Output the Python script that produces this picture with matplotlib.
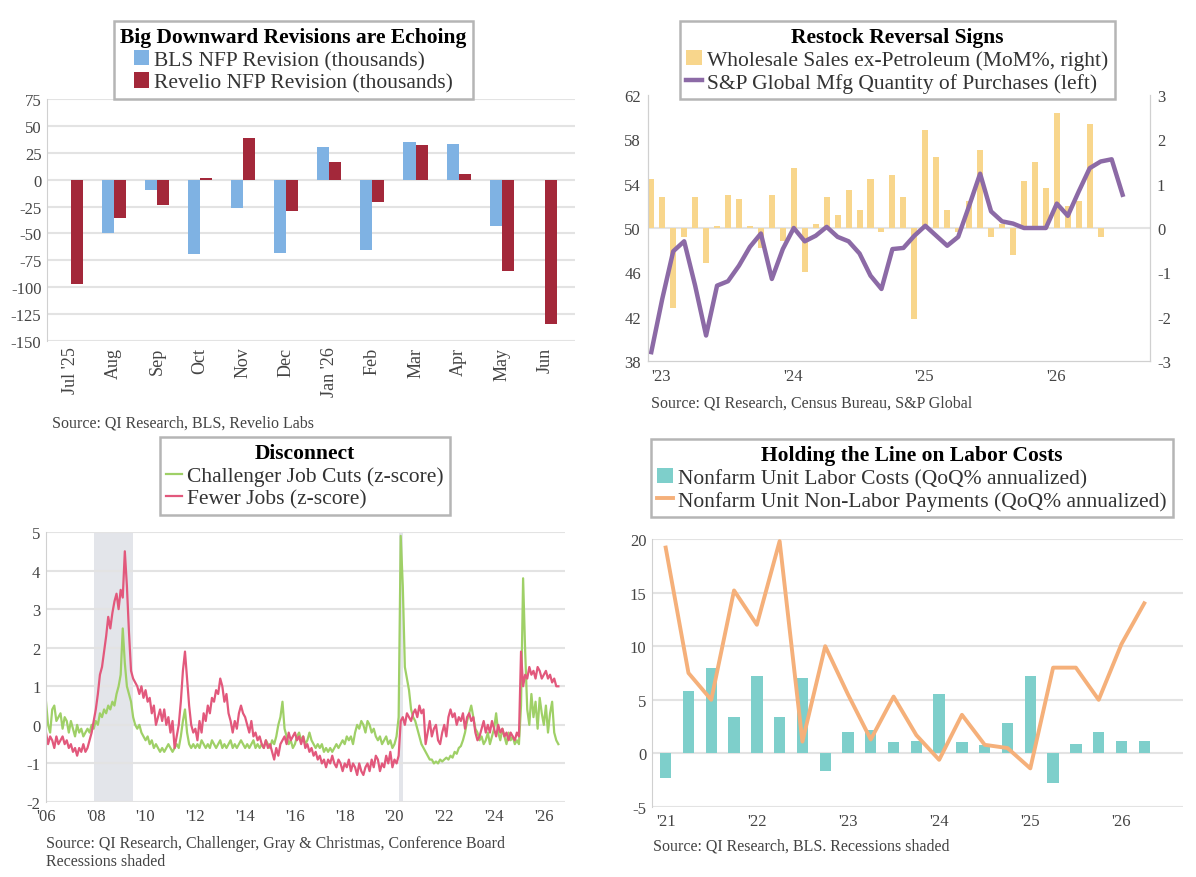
import numpy as np
import matplotlib
matplotlib.use("Agg")
import matplotlib.pyplot as plt

plt.rcParams['font.family'] = ['Liberation Serif', 'DejaVu Serif']
plt.rcParams['axes.unicode_minus'] = False

# ---- top left: payroll revisions
rev_months = ["Jul '25", "Aug", "Sep", "Oct", "Nov", "Dec",
              "Jan '26", "Feb", "Mar", "Apr", "May", "Jun"]
bls_rev = [np.nan, -50, -10, -69, -26, -68, 30, -65, 35, 33, -43, np.nan]
revelio_rev = [-97, -36, -24, 2, 39, -29, 16, -21, 32, 5, -85, -134]

# ---- top right: restock signals (monthly from Jan 2023)
purch_ticks = ["'23", "'24", "'25", "'26"]
sp_purchases = [38.8, 43.6, 47.9, 48.8, 44.8, 40.3, 44.8, 45.2, 46.6, 48.3, 49.5, 45.4,
                48.1, 50.0, 48.8, 49.3, 50.1, 49.2, 48.8, 47.7, 45.7, 44.5, 48.1, 48.2,
                49.3, 50.2, 49.3, 48.4, 49.2, 52.0, 54.9, 51.5, 50.6, 50.4, 50.0, 50.0,
                50.0, 52.2, 51.1, 53.3, 55.4, 56.0, 56.2, 53.0]
wholesale_mom = [1.1, 0.7, -1.8, -0.2, 0.7, -0.8, 0.05, 0.75, 0.65, 0.05, -0.45, 0.75,
                 -0.3, 1.35, -1.0, 0.1, 0.7, 0.3, 0.85, 0.4, 1.1, -0.1, 1.2, 0.7,
                 -2.05, 2.2, 1.6, 0.4, -0.1, 0.6, 1.75, -0.2, 0.1, -0.6, 1.05, 1.5,
                 0.9, 2.6, 0.5, 0.6, 2.35, -0.2]

# ---- bottom left: z-scores, monthly from Jan 2006
challenger = [
    0.6, 0.0, -0.2, 0.4, 0.5, 0.1, 0.2, 0.3, -0.1, 0.2, 0.1, -0.2,
    0.1, -0.1, -0.3, 0.0, -0.2, -0.1, -0.3, -0.2, -0.1, -0.2, 0.0, -0.1,
    0.1, 0.0, 0.3, 0.2, 0.4, 0.3, 0.5, 0.4, 0.6, 0.5, 0.8, 1.0,
    1.3, 2.5, 1.6, 1.0, 0.8, 0.6, 0.2, 0.0, -0.1, 0.0, -0.2, -0.3,
    -0.4, -0.3, -0.5, -0.4, -0.6, -0.5, -0.6, -0.7, -0.6, -0.7, -0.6, -0.5,
    -0.6, -0.7, -0.6, -0.5, -0.6, -0.3, 0.1, 0.4, -0.2, -0.5, -0.6, -0.5,
    -0.6, -0.5, -0.6, -0.4, -0.5, -0.6, -0.5, -0.6, -0.4, -0.5, -0.6, -0.5,
    -0.4, -0.6, -0.5, -0.6, -0.5, -0.4, -0.6, -0.5, -0.6, -0.5, -0.4, -0.5,
    -0.6, -0.5, -0.6, -0.5, -0.4, -0.6, -0.5, -0.6, -0.5, -0.6, -0.4, -0.5,
    -0.6, -0.4, -0.5, -0.3, 0.0, 0.2, 0.6, -0.1, -0.3, -0.5, -0.4, -0.6,
    -0.5, -0.3, -0.2, -0.4, -0.3, -0.5, -0.4, -0.2, -0.4, -0.5, -0.6, -0.5,
    -0.6, -0.5, -0.7, -0.6, -0.7, -0.6, -0.7, -0.6, -0.5, -0.6, -0.5, -0.4,
    -0.5, -0.3, -0.4, -0.3, -0.5, -0.2, 0.0, -0.1, 0.1, 0.0, -0.2, 0.1,
    0.0, -0.2, -0.1, -0.3, -0.4, -0.3, -0.5, -0.4, -0.3, -0.5, -0.4, -0.6,
    -0.5, -0.3, 0.2, 4.9, 3.6, 1.5, 1.2, 0.9, 0.4, 0.2, 0.1, -0.1,
    -0.3, -0.5, -0.6, -0.7, -0.8, -0.9, -0.9, -1.0, -0.95, -1.0, -0.9, -0.95,
    -0.9, -0.85, -0.9, -0.8, -0.85, -0.7, -0.75, -0.6, -0.55, -0.4, -0.2, 0.1,
    0.3, 0.5, 0.2, -0.1, -0.2, -0.4, -0.3, -0.5, -0.4, -0.2, -0.5, -0.3,
    -0.1, 0.3, -0.2, -0.4, -0.1, -0.3, -0.5, -0.2, -0.4, -0.3, -0.5, -0.4,
    -0.5, 0.5, 3.8, 1.9, 0.4, 0.0, 0.8, 0.2, 0.6, -0.1, 0.7, 0.3,
    0.0, 0.5, -0.2, 0.3, 0.6, -0.2, -0.4, -0.5]
fewer_jobs = [
    -0.2, -0.5, -0.3, -0.4, -0.6, -0.3, -0.5, -0.4, -0.3, -0.5, -0.4, -0.6,
    -0.5, -0.7, -0.6, -0.8, -0.6, -0.7, -0.5, -0.7, -0.6, -0.4, -0.2, 0.1,
    0.4, 0.8, 1.3, 1.5, 1.9, 2.3, 2.8, 2.5, 2.9, 3.2, 3.4, 3.0,
    3.5, 3.3, 4.5, 3.6, 2.4, 1.4, 1.2, 1.1, 1.0, 0.8, 1.0, 0.7,
    0.9, 0.6, 0.7, 0.3, 0.5, 0.0, 0.2, 0.4, 0.1, 0.4, 0.0, 0.2,
    -0.2, 0.1, -0.6, -0.3, 0.0, 0.6, 1.4, 1.9, 1.2, 0.5, 0.0, -0.2,
    -0.1, -0.4, 0.1, -0.2, 0.3, 0.1, 0.5, 0.3, 0.7, 0.6, 0.9, 0.8,
    1.2, 1.0, 0.6, 0.8, 0.3, 0.1, -0.2, 0.1, -0.1, 0.3, 0.5, 0.3,
    0.2, 0.0, -0.2, 0.1, -0.3, -0.2, -0.4, -0.3, -0.5, -0.6, -0.4, -0.6,
    -0.5, -0.7, -0.9, -0.6, -0.8, -0.5, -0.4, -0.3, -0.5, -0.2, -0.4, -0.3,
    -0.2, -0.4, -0.3, -0.5, -0.3, -0.6, -0.5, -0.7, -0.6, -0.8, -0.7, -0.9,
    -0.8, -1.0, -0.9, -1.1, -0.9, -1.0, -0.8, -1.0, -1.1, -0.9, -1.0, -1.2,
    -1.0, -1.1, -0.9, -1.2, -1.0, -1.1, -1.3, -1.0, -1.2, -1.3, -1.1, -1.0,
    -1.2, -0.9, -1.1, -0.8, -0.9, -1.2, -1.0, -1.1, -0.8, -1.0, -0.7, -1.1,
    -0.9, -1.0, -0.8, 0.1, 0.2, 0.0, 0.3, 0.2, 0.1, 0.3, 0.4, 0.2,
    0.5, 0.3, 0.4, -0.5, -0.2, 0.1, -0.3, -0.1, 0.0, -0.4, -0.5, -0.2,
    0.0, -0.3, 0.2, 0.4, 0.2, 0.3, 0.0, 0.2, 0.1, 0.3, -0.1, 0.2,
    0.3, 0.1, 0.2, -0.2, -0.4, -0.3, -0.1, 0.1, -0.2, 0.0, -0.2, 0.1,
    -0.1, -0.3, 0.0, -0.2, -0.1, -0.3, -0.2, -0.4, -0.2, -0.3, -0.4, -0.2,
    -0.3, 1.9, 1.0, 1.3, 1.2, 1.5, 1.3, 1.4, 1.2, 1.5, 1.4, 1.2,
    1.3, 1.4, 1.2, 1.3, 1.1, 1.2, 1.0, 1.0]
recessions = [(2007.92, 2009.5), (2020.17, 2020.33)]
z_years = [2006, 2008, 2010, 2012, 2014, 2016, 2018, 2020, 2022, 2024, 2026]

# ---- bottom right: quarterly from 2021Q1
cost_ticks = ["'21", "'22", "'23", "'24", "'25", "'26"]
unit_labor = [-2.3, 5.8, 8.0, 3.4, 7.2, 3.4, 7.0, -1.6, 2.0, 2.2, 1.1,
              1.2, 5.5, 1.1, 0.8, 2.8, 7.2, -2.8, 0.9, 2.0, 1.2, 1.2]
unit_nonlabor = [19.2, 7.5, 5.0, 15.2, 12.0, 19.8, 1.1, 10.0, 5.5, 1.3, 5.3,
                 1.7, -0.6, 3.6, 0.8, 0.5, -1.4, 8.0, 8.0, 5.0, 10.2, 14.0]

grid_c = '#e3e3e3'
tick_c = '#444444'
spine_c = '#d0d0d0'
TICK_FS = 12
SRC_FS = 11.5


def style(ax, grid=True):
    for s in ['top', 'right', 'bottom']:
        ax.spines[s].set_visible(False)
    ax.spines['left'].set_color(spine_c)
    ax.tick_params(length=0, labelsize=TICK_FS, colors=tick_c, pad=4)
    if grid:
        ax.grid(axis='y', color=grid_c, linewidth=1.5)
        ax.set_axisbelow(True)


def boxed_legend(ax, handles, labels, title, corner):
    leg = ax.legend(handles, labels, title=title, loc='upper left',
                    bbox_to_anchor=(corner[0] / 1196, 1 - corner[1] / 878),
                    bbox_transform=fig.transFigure, fontsize=15.5,
                    title_fontproperties={'weight': 'bold', 'size': 15.5},
                    frameon=True, fancybox=False, framealpha=1,
                    edgecolor='#b5b5b5', handlelength=0.7, handleheight=0.7,
                    handletextpad=0.25, labelspacing=0.1, borderpad=0.3,
                    borderaxespad=0)
    leg.get_frame().set_linewidth(1.8)
    leg._legend_box.sep = 2
    for t in leg.get_texts():
        t.set_color('#333333')
    return leg


fig = plt.figure(figsize=(11.96, 8.78), dpi=100)

# ================= top left
ax1 = fig.add_axes([47 / 1196, 536 / 878, 528 / 1196, 242 / 878])
style(ax1)
x = np.arange(len(rev_months))
b1 = ax1.bar(x - 0.14, bls_rev, width=0.28, color='#7fb2e3')
b2 = ax1.bar(x + 0.14, revelio_rev, width=0.28, color='#a3283a')
ax1.set_ylim(-150, 75)
ax1.set_yticks(np.arange(-150, 76, 25))
ax1.set_xlim(-0.55, 11.7)
ax1.set_xticks(x)
ax1.set_xticklabels(rev_months, rotation=90, fontsize=13)
boxed_legend(ax1, [b1, b2], ['BLS NFP Revision (thousands)',
                             'Revelio NFP Revision (thousands)'],
             'Big Downward Revisions are Echoing', (114, 22))
fig.text(52 / 1196, 1 - 424 / 878, 'Source: QI Research, BLS, Revelio Labs',
         fontsize=SRC_FS, color=tick_c, va='center')

# ================= top right
ax2 = fig.add_axes([648 / 1196, 516 / 878, 502 / 1196, 266 / 878])
ax2r = ax2.twinx()
ax2.set_zorder(ax2r.get_zorder() + 1)
ax2.patch.set_visible(False)
for a in (ax2, ax2r):
    a.spines['top'].set_visible(False)
    for s in ['left', 'right', 'bottom']:
        a.spines[s].set_color(spine_c)
    a.tick_params(length=0, labelsize=TICK_FS, colors=tick_c, pad=5)
m = np.arange(len(sp_purchases))
bars = ax2r.bar(np.arange(len(wholesale_mom)), wholesale_mom, width=0.55,
                color='#f8d68c')
ax2r.set_ylim(-3, 3)
ax2r.set_yticks(np.arange(-3, 4, 1))
ax2r.axhline(0, color=grid_c, linewidth=1.5, zorder=0)
line, = ax2.plot(m, sp_purchases, color='#8c6aa6', linewidth=3.2)
ax2.set_ylim(38, 62)
ax2.set_yticks(np.arange(38, 63, 4))
ax2.set_xlim(-0.3, 45.5)
ax2.set_xticks([0, 12, 24, 36])
ax2.set_xticklabels(purch_ticks, ha='left')
boxed_legend(ax2, [bars, line], ['Wholesale Sales ex-Petroleum (MoM%, right)',
                                 'S&P Global Mfg Quantity of Purchases (left)'],
             'Restock Reversal Signs', (680, 22))
fig.text(651 / 1196, 1 - 403 / 878, 'Source: QI Research, Census Bureau, S&P Global',
         fontsize=SRC_FS, color=tick_c, va='center')

# ================= bottom left
ax3 = fig.add_axes([46 / 1196, 75 / 878, 519 / 1196, 270 / 878])
style(ax3)
t = 2006 + np.arange(len(fewer_jobs)) / 12
for r0, r1 in recessions:
    ax3.axvspan(r0, r1, color='#e3e5ea', zorder=0, linewidth=0)
g, = ax3.plot(t, challenger, color='#9fd067', linewidth=1.6)
p, = ax3.plot(t, fewer_jobs, color='#e2587c', linewidth=1.6)
ax3.set_ylim(-2, 5)
ax3.set_yticks(np.arange(-2, 6, 1))
ax3.set_xlim(2006, 2026.85)
ax3.set_xticks(z_years)
ax3.set_xticklabels(["'%02d" % (y % 100) for y in z_years])
boxed_legend(ax3, [g, p], ['Challenger Job Cuts (z-score)', 'Fewer Jobs (z-score)'],
             'Disconnect', (160, 438))
fig.text(46 / 1196, 1 - 844 / 878,
         'Source: QI Research, Challenger, Gray & Christmas, Conference Board',
         fontsize=SRC_FS, color=tick_c, va='center')
fig.text(46 / 1196, 1 - 862 / 878, 'Recessions shaded',
         fontsize=SRC_FS, color=tick_c, va='center')

# ================= bottom right
ax4 = fig.add_axes([652 / 1196, 70 / 878, 531 / 1196, 268 / 878])
style(ax4)
q = np.arange(len(unit_labor))
tb = ax4.bar(q, unit_labor, width=0.5, color='#7ecfcb')
ol, = ax4.plot(q, unit_nonlabor, color='#f5b07a', linewidth=2.8)
ax4.set_ylim(-5, 20)
ax4.set_yticks(np.arange(-5, 21, 5))
ax4.set_xlim(-0.6, 22.7)
ax4.set_xticks(np.arange(0, 21, 4))
ax4.set_xticklabels(cost_ticks)
boxed_legend(ax4, [tb, ol], ['Nonfarm Unit Labor Costs (QoQ% annualized)',
                             'Nonfarm Unit Non-Labor Payments (QoQ% annualized)'],
             'Holding the Line on Labor Costs', (651, 440))
fig.text(653 / 1196, 1 - 847 / 878, 'Source: QI Research, BLS. Recessions shaded',
         fontsize=SRC_FS, color=tick_c, va='center')

fig.savefig('out.png', dpi=100)
